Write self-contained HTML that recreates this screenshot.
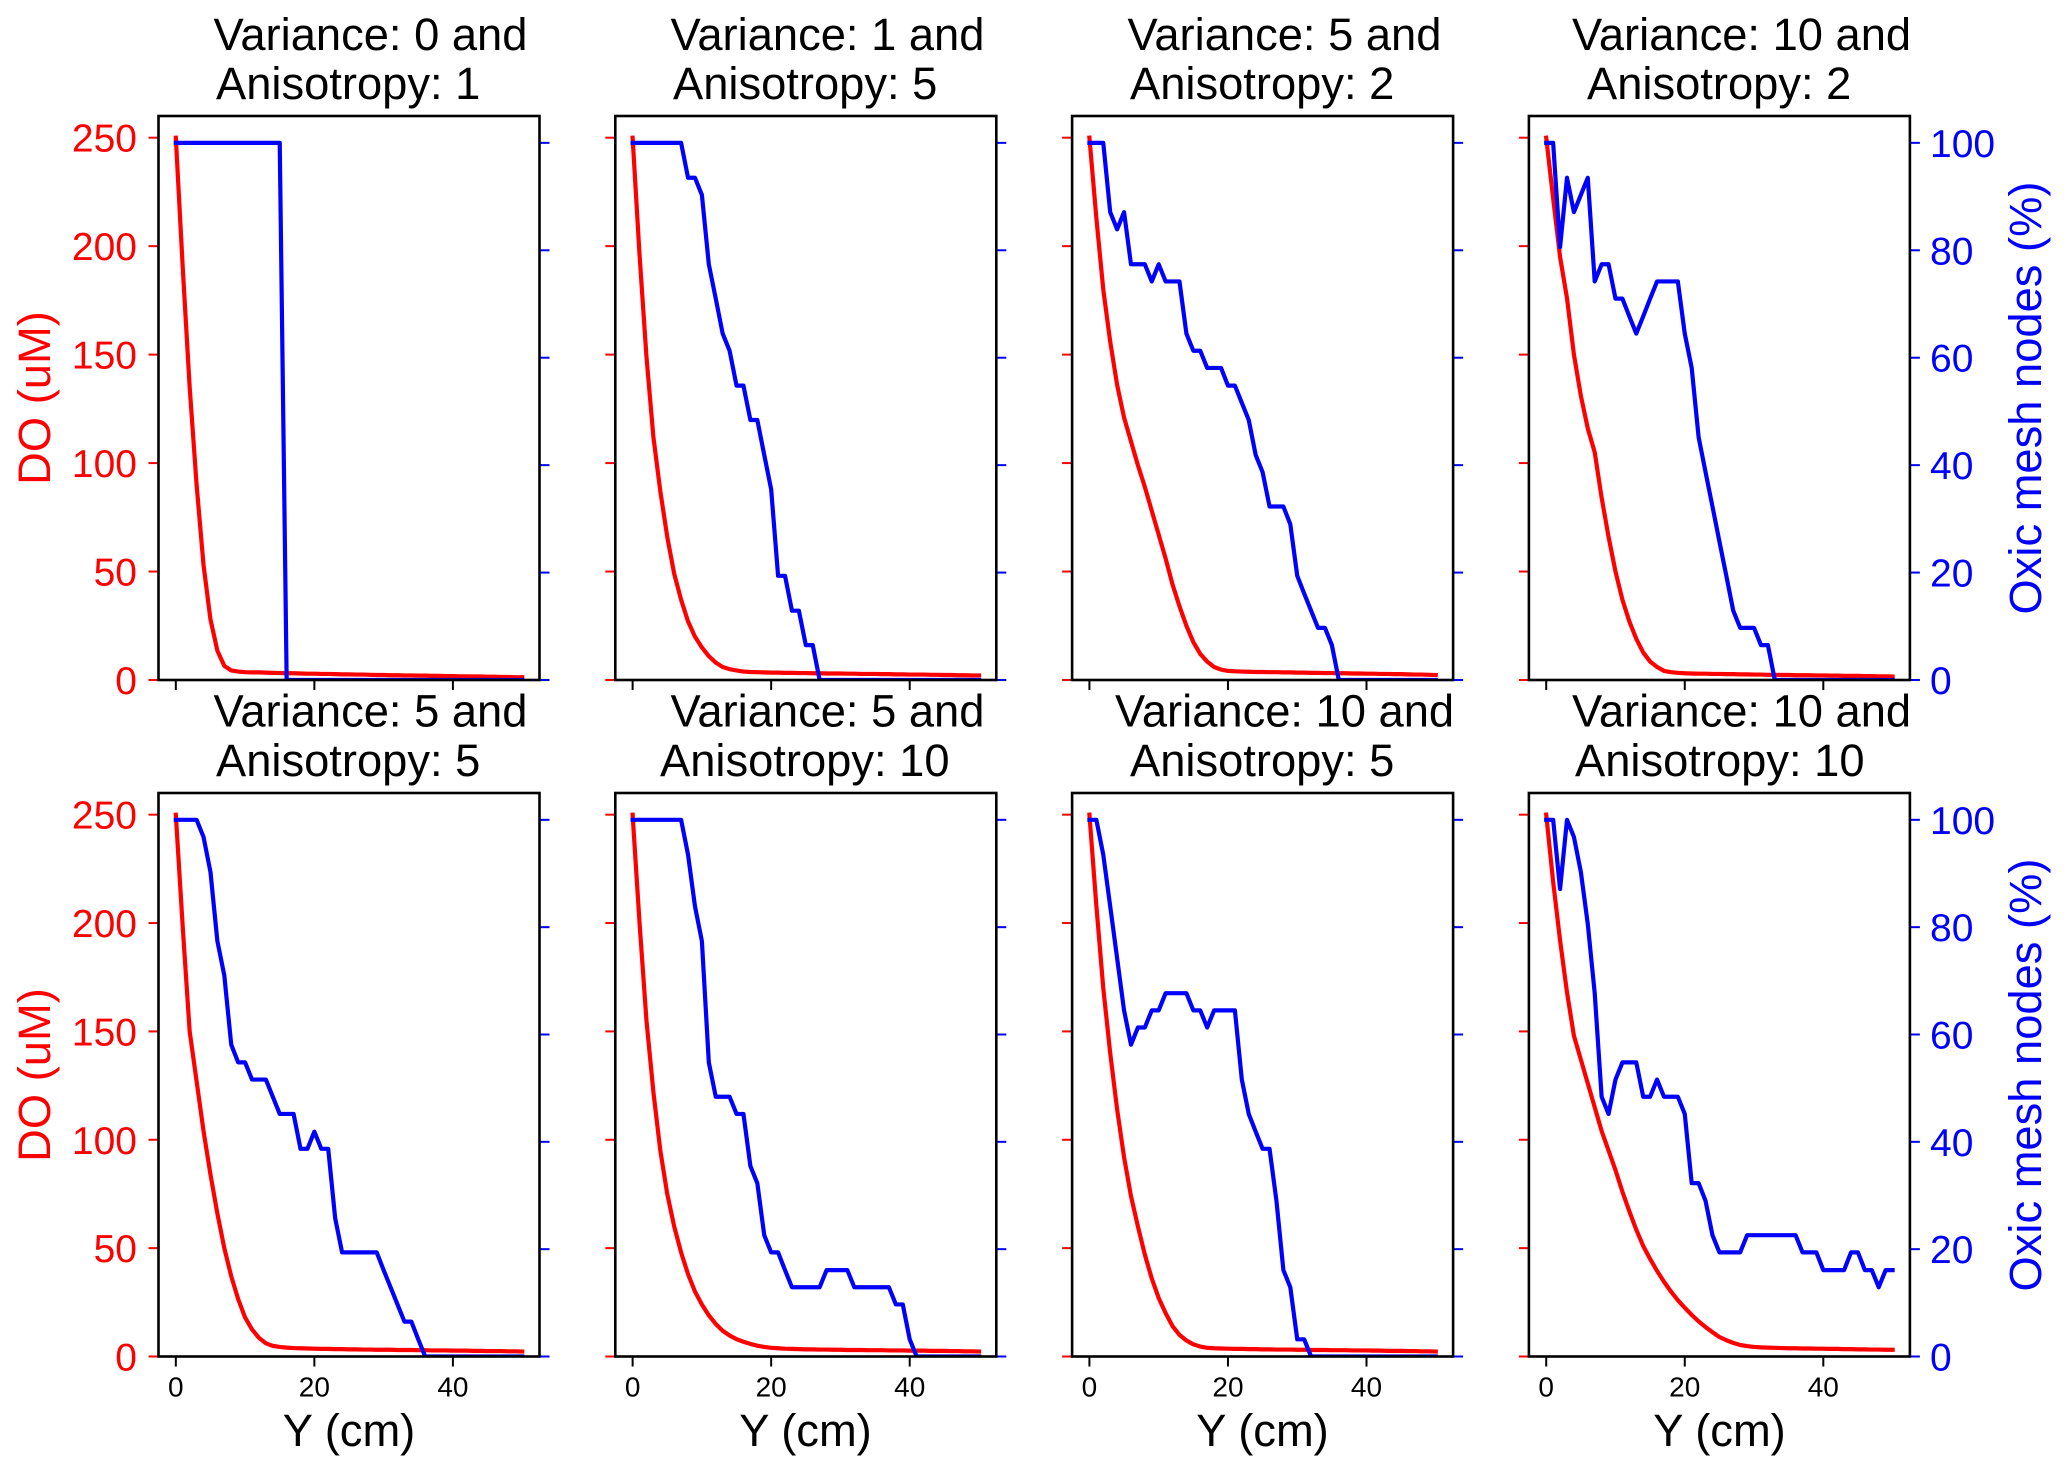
<!DOCTYPE html>
<html lang="en">
<head>
<meta charset="utf-8">
<title>DO and oxic mesh nodes panels</title>
<style>
html,body{margin:0;padding:0;background:#fff;}
svg{display:block;}
text{font-family:"Liberation Sans",Arial,sans-serif;}
.title{font-size:45.3px;fill:#000;}
.ylab{font-size:45.3px;}
.xlab{font-size:45.3px;fill:#000;text-anchor:middle;}
</style>
</head>
<body>
<svg id="figure" xmlns="http://www.w3.org/2000/svg" width="2067" height="1474" viewBox="0 0 2067 1474">
<rect x="0" y="0" width="2067" height="1474" fill="#fff"/>
<g id="panels"></g>

<g>
<text class="title" x="213.5" y="50">Variance: 0 and</text>
<text class="title" x="216" y="99">Anisotropy: 1</text>
<text class="title" x="670.5" y="50">Variance: 1 and</text>
<text class="title" x="673" y="99">Anisotropy: 5</text>
<text class="title" x="1127.5" y="50">Variance: 5 and</text>
<text class="title" x="1130" y="99">Anisotropy: 2</text>
<text class="title" x="1572" y="50">Variance: 10 and</text>
<text class="title" x="1587" y="99">Anisotropy: 2</text>
<text class="title" x="213.5" y="726.7">Variance: 5 and</text>
<text class="title" x="216" y="776">Anisotropy: 5</text>
<text class="title" x="670.5" y="726.7">Variance: 5 and</text>
<text class="title" x="660" y="776">Anisotropy: 10</text>
<text class="title" x="1115" y="726.7">Variance: 10 and</text>
<text class="title" x="1130" y="776">Anisotropy: 5</text>
<text class="title" x="1572" y="726.7">Variance: 10 and</text>
<text class="title" x="1575" y="776">Anisotropy: 10</text>
</g>

<g>
<text class="ylab" fill="#ff0000" text-anchor="middle" transform="translate(50,398) rotate(-90)">DO (uM)</text>
<text class="ylab" fill="#ff0000" text-anchor="middle" transform="translate(50,1075) rotate(-90)">DO (uM)</text>
<text class="ylab" fill="#0000ff" text-anchor="middle" transform="translate(2041,398) rotate(-90)">Oxic mesh nodes (%)</text>
<text class="ylab" fill="#0000ff" text-anchor="middle" transform="translate(2041,1075) rotate(-90)">Oxic mesh nodes (%)</text>
<text class="xlab" x="349" y="1446">Y (cm)</text>
<text class="xlab" x="805.5" y="1446">Y (cm)</text>
<text class="xlab" x="1262.5" y="1446">Y (cm)</text>
<text class="xlab" x="1719.5" y="1446">Y (cm)</text>
</g>
</svg>

<script>
const depthCm = [0,1,2,3,4,5,6,7,8,9,10,
  11,12,13,14,15,16,17,18,19,20,
  21,22,23,24,25,26,27,28,29,30,
  31,32,33,34,35,36,37,38,39,40,
  41,42,43,44,45,46,47,48,49,50];

const xTicks = [0,20,40];
const doTicks = [0,50,100,150,200,250];
const oxicTicks = [0,20,40,60,80,100];

const doP1 = [250,190,135,90,53,28,13.5,6.5,4.4,3.9,3.6,
  3.5,3.5,3.4,3.3,3.2,3.1,3.1,3,2.9,2.9,
  2.8,2.8,2.7,2.6,2.6,2.5,2.5,2.4,2.3,2.3,
  2.2,2.2,2.1,2.1,2,2,1.9,1.9,1.8,1.8,
  1.7,1.7,1.6,1.6,1.5,1.5,1.4,1.4,1.3,1.3];
const oxicP1 = [100,100,100,100,100,100,100,100,100,100,100,
  100,100,100,100,100,0,0,0,0,0,
  0,0,0,0,0,0,0,0,0,0,
  0,0,0,0,0,0,0,0,0,0,
  0,0,0,0,0,0,0,0,0,0];

const doP2 = [250,196,149,112,87,66,49,37,27,20,15,
  11,8,6,5,4.4,3.9,3.7,3.6,3.5,3.4,
  3.4,3.3,3.3,3.2,3.2,3.1,3.1,3,3,3,
  2.9,2.9,2.8,2.8,2.8,2.7,2.7,2.6,2.6,2.5,
  2.5,2.5,2.4,2.4,2.3,2.3,2.2,2.2,2.1,2.1];
const oxicP2 = [100,100,100,100,100,100,100,100,93.5,93.5,90.3,
  77.4,71,64.5,61.3,54.8,54.8,48.4,48.4,41.9,35.5,
  19.4,19.4,12.9,12.9,6.5,6.5,0,0,0,0,
  0,0,0,0,0,0,0,0,0,0,
  0,0,0,0,0,0,0,0,0,0];

const doP3 = [250,213,180,156,136,121,110,99,89,78,67,
  56,44,34,25,17.5,12,8.5,6,4.8,4.2,
  4,3.9,3.8,3.7,3.7,3.6,3.6,3.5,3.5,3.4,
  3.4,3.3,3.3,3.2,3.2,3.1,3.1,3,3,2.9,
  2.9,2.8,2.8,2.7,2.7,2.6,2.5,2.5,2.4,2.3];
const oxicP3 = [100,100,100,87.1,83.9,87.1,77.4,77.4,77.4,74.2,77.4,
  74.2,74.2,74.2,64.5,61.3,61.3,58.1,58.1,58.1,54.8,
  54.8,51.6,48.4,41.9,38.7,32.3,32.3,32.3,29,19.4,
  16.1,12.9,9.7,9.7,6.5,0,0,0,0,0,
  0,0,0,0,0,0,0,0,0,0];

const doP4 = [250,222,195,176,150,131,116,105,84,66,50,
  37,27,19,12.7,8.5,6,4.2,3.6,3.3,3.1,
  3,2.9,2.9,2.8,2.8,2.7,2.7,2.6,2.6,2.5,
  2.5,2.4,2.4,2.3,2.3,2.2,2.2,2.2,2.1,2.1,
  2,2,1.9,1.9,1.9,1.8,1.8,1.7,1.7,1.6];
const oxicP4 = [100,100,80.6,93.5,87.1,90.3,93.5,74.2,77.4,77.4,71,
  71,67.7,64.5,67.7,71,74.2,74.2,74.2,74.2,64.5,
  58.1,45.2,38.7,32.3,25.8,19.4,12.9,9.7,9.7,9.7,
  6.5,6.5,0,0,0,0,0,0,0,0,
  0,0,0,0,0,0,0,0,0,0];

const doP5 = [250,198,150,127,104,84,66,50,37,26.5,18,
  12.5,8.6,6.1,4.9,4.4,4.1,3.9,3.8,3.7,3.6,
  3.5,3.5,3.4,3.4,3.3,3.3,3.2,3.2,3.1,3.1,
  3.1,3,3,3,2.9,2.9,2.8,2.8,2.8,2.7,
  2.7,2.7,2.6,2.6,2.5,2.5,2.5,2.4,2.4,2.3];
const oxicP5 = [100,100,100,100,96.8,90.3,77.4,71,58.1,54.8,54.8,
  51.6,51.6,51.6,48.4,45.2,45.2,45.2,38.7,38.7,41.9,
  38.7,38.7,25.8,19.4,19.4,19.4,19.4,19.4,19.4,16.1,
  12.9,9.7,6.5,6.5,3.2,0,0,0,0,0,
  0,0,0,0,0,0,0,0,0,0];

const doP6 = [250,200,155,122,95,75,60,48,38,30,24,
  19,15,11.9,9.7,8,6.8,5.8,5,4.4,4,
  3.8,3.6,3.5,3.4,3.3,3.3,3.2,3.2,3.1,3.1,
  3,3,3,2.9,2.9,2.9,2.8,2.8,2.8,2.7,
  2.7,2.7,2.6,2.6,2.6,2.5,2.5,2.4,2.4,2.3];
const oxicP6 = [100,100,100,100,100,100,100,100,93.5,83.9,77.4,
  54.8,48.4,48.4,48.4,45.2,45.2,35.5,32.3,22.6,19.4,
  19.4,16.1,12.9,12.9,12.9,12.9,12.9,16.1,16.1,16.1,
  16.1,12.9,12.9,12.9,12.9,12.9,12.9,9.7,9.7,3.2,
  0,0,0,0,0,0,0,0,0,0];

const doP7 = [250,208,170,140,114,92,74,60,47,36,27,
  20,14,10,7.4,5.6,4.6,4,3.8,3.7,3.6,
  3.5,3.5,3.4,3.4,3.3,3.3,3.2,3.2,3.2,3.1,
  3.1,3,3,3,2.9,2.9,2.9,2.8,2.8,2.8,
  2.7,2.7,2.6,2.6,2.6,2.5,2.5,2.4,2.4,2.3];
const oxicP7 = [100,100,93.5,83.9,74.2,64.5,58.1,61.3,61.3,64.5,64.5,
  67.7,67.7,67.7,67.7,64.5,64.5,61.3,64.5,64.5,64.5,
  64.5,51.6,45.2,41.9,38.7,38.7,29,16.1,12.9,3.2,
  3.2,0,0,0,0,0,0,0,0,0,
  0,0,0,0,0,0,0,0,0,0];

const doP8 = [250,219,192,168,148,137,126,115,104,95,86,
  76,67,58.5,51,45,39.5,34.5,30,26,22.5,
  19.2,16.2,13.6,11.2,9,7.5,6.3,5.3,4.8,4.4,
  4.2,4.1,4,3.9,3.8,3.8,3.7,3.7,3.6,3.6,
  3.5,3.5,3.4,3.4,3.3,3.3,3.2,3.2,3.1,3.1];
const oxicP8 = [100,100,87.1,100,96.8,90.3,80.6,67.7,48.4,45.2,51.6,
  54.8,54.8,54.8,48.4,48.4,51.6,48.4,48.4,48.4,45.2,
  32.3,32.3,29,22.6,19.4,19.4,19.4,19.4,22.6,22.6,
  22.6,22.6,22.6,22.6,22.6,22.6,19.4,19.4,19.4,16.1,
  16.1,16.1,16.1,19.4,19.4,16.1,16.1,12.9,16.1,16.1];

const doSeries = [doP1,doP2,doP3,doP4,doP5,doP6,doP7,doP8];
const oxicSeries = [oxicP1,oxicP2,oxicP3,oxicP4,oxicP5,oxicP6,oxicP7,oxicP8];

const SVG_NS = 'http://www.w3.org/2000/svg';
const root = document.getElementById('panels');

function make(tag, parent, attrs) {
  const el = document.createElementNS(SVG_NS, tag);
  for (const k in attrs) { el.setAttribute(k, attrs[k]); }
  parent.appendChild(el);
  return el;
}

function pathFrom(xs, ys, xFn, yFn) {
  return xs.map(function (x, i) {
    return (i ? 'L' : 'M') + xFn(x).toFixed(2) + ' ' + yFn(ys[i]).toFixed(2);
  }).join(' ');
}

function drawPanel(index) {
  const col = index % 4;
  const row = index < 4 ? 0 : 1;
  const left = 158.5 + col * 456.8;
  const width = 381;
  const top = row === 0 ? 116 : 793;
  const bottom = row === 0 ? 680 : 1356.5;
  const height = bottom - top;
  const n = index + 1;

  const xScale = function (v) { return left + (v + 2.5) / 55 * width; };
  const doScale = function (v) { return bottom - v / 260 * height; };
  const oxicScale = function (v) { return bottom - v / 105 * height; };

  const panel = make('g', root, {});
  
  

  const clip = make('clipPath', panel, { id: 'clip-' + n });
  make('rect', clip, { x: left, y: top, width: width, height: height });

  doTicks.forEach(function (t) {
    const y = doScale(t);
    const tick = make('line', panel, { x1: left - 10, x2: left, y1: y, y2: y, stroke: '#ff0000', 'stroke-width': 2 });
    
    
    if (col === 0) {
      const label = make('text', panel, { x: 137, y: y + 14, 'text-anchor': 'end', fill: '#ff0000', 'font-size': 39 });
      
      
      label.textContent = String(t);
    }
  });

  oxicTicks.forEach(function (t) {
    const y = oxicScale(t);
    const tick = make('line', panel, { x1: left + width, x2: left + width + 10, y1: y, y2: y, stroke: '#0000ff', 'stroke-width': 2 });
    
    
    if (col === 3) {
      const label = make('text', panel, { x: 1930, y: y + 14, 'text-anchor': 'start', fill: '#0000ff', 'font-size': 39 });
      
      
      label.textContent = String(t);
    }
  });

  xTicks.forEach(function (t) {
    const x = xScale(t);
    const tick = make('line', panel, { x1: x, x2: x, y1: bottom, y2: bottom + 10, stroke: '#000', 'stroke-width': 2 });
    
    
    if (row === 1) {
      const label = make('text', panel, { x: x, y: 1396.5, 'text-anchor': 'middle', fill: '#000', 'font-size': 28 });
      
      
      label.textContent = String(t);
    }
  });

  const doLine = make('path', panel, {
    d: pathFrom(depthCm, doSeries[index], xScale, doScale),
    fill: 'none', stroke: '#ff0000', 'stroke-width': 4.2,
    'stroke-linecap': 'square', 'stroke-linejoin': 'round', 'clip-path': 'url(#clip-' + n + ')'
  });
  
  

  const oxicLine = make('path', panel, {
    d: pathFrom(depthCm, oxicSeries[index], xScale, oxicScale),
    fill: 'none', stroke: '#0000ff', 'stroke-width': 4.2,
    'stroke-linecap': 'square', 'stroke-linejoin': 'round', 'clip-path': 'url(#clip-' + n + ')'
  });
  
  

  const frame = make('rect', panel, { x: left, y: top, width: width, height: height, fill: 'none', stroke: '#000', 'stroke-width': 2.6 });
  
  
}

doSeries.forEach(function (_, i) { drawPanel(i); });
</script>
</body>
</html>
